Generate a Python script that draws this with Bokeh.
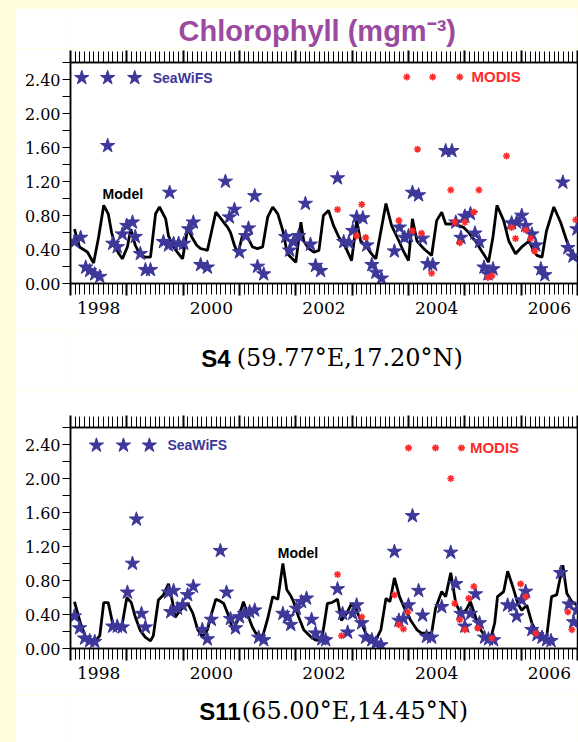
from bokeh.plotting import figure
from bokeh.models import (FixedTicker, LinearAxis, Label, Range1d, Spacer,
                          CustomJSTickFormatter, PrintfTickFormatter)
from bokeh.layouts import column, row
from bokeh.embed import file_html
from bokeh.resources import INLINE

# ---------------- axes / ticks ----------------
year_ticks = list(range(1998, 2008))
month_ticks = [1998 + k / 12 for k in range(109)]
year_label_ticks = [1998.5, 2000.5, 2002.5, 2004.5, 2006.5]
y_major = [0.0, 0.4, 0.8, 1.2, 1.6, 2.0, 2.4]
y_minor = [0.2, 0.6, 1.0, 1.4, 1.8, 2.2, 2.6]

# ---------------- S4 (59.77E, 17.20N) ----------------
s4_model_t = [1998.07, 1998.16, 1998.23, 1998.30, 1998.36, 1998.41, 1998.50, 1998.59, 1998.67, 1998.73,
              1998.80, 1998.85, 1998.92, 1999.01, 1999.07, 1999.15, 1999.24, 1999.33, 1999.42, 1999.51,
              1999.58, 1999.69, 1999.74, 1999.81, 1999.86, 1999.94, 1999.99, 2000.08, 2000.15, 2000.24,
              2000.31, 2000.38, 2000.43, 2000.50, 2000.58, 2000.65, 2000.72, 2000.79, 2000.84, 2000.91,
              2000.97, 2001.06, 2001.14, 2001.23, 2001.32, 2001.41, 2001.50, 2001.59, 2001.68, 2001.77,
              2001.85, 2002.00, 2002.09, 2002.14, 2002.23, 2002.32, 2002.41, 2002.49, 2002.58, 2002.67,
              2002.76, 2002.88, 2002.99, 2003.08, 2003.15, 2003.26, 2003.33, 2003.42, 2003.60, 2003.70,
              2003.83, 2003.91, 2004.00, 2004.07, 2004.15, 2004.27, 2004.34, 2004.41, 2004.50, 2004.59,
              2004.66, 2004.77, 2004.89, 2004.98, 2005.07, 2005.12, 2005.19, 2005.28, 2005.37, 2005.42,
              2005.50, 2005.57, 2005.69, 2005.78, 2005.90, 2006.01, 2006.14, 2006.21, 2006.28, 2006.37,
              2006.45, 2006.58, 2006.70, 2006.81, 2006.90, 2006.99]
s4_model_v = [0.64, 0.43, 0.40, 0.37, 0.30, 0.24, 0.55, 0.92, 0.82, 0.60,
              0.43, 0.36, 0.29, 0.43, 0.64, 0.45, 0.33, 0.31, 0.31, 0.82,
              0.90, 0.76, 0.56, 0.45, 0.40, 0.33, 0.29, 0.65, 0.55, 0.45,
              0.41, 0.40, 0.39, 0.60, 0.84, 0.78, 0.72, 0.66, 0.60, 0.45,
              0.35, 0.58, 0.55, 0.43, 0.41, 0.43, 0.78, 0.90, 0.82, 0.62,
              0.35, 0.25, 0.72, 0.50, 0.41, 0.37, 0.39, 0.80, 0.86, 0.68,
              0.55, 0.43, 0.27, 0.74, 0.50, 0.43, 0.36, 0.29, 0.94, 0.68,
              0.50, 0.38, 0.27, 0.76, 0.50, 0.41, 0.37, 0.33, 0.74, 0.84,
              0.70, 0.70, 0.68, 0.66, 0.60, 0.55, 0.50, 0.40, 0.31, 0.25,
              0.55, 0.92, 0.74, 0.50, 0.35, 0.43, 0.50, 0.40, 0.33, 0.31,
              0.62, 0.90, 0.72, 0.50, 0.35, 0.31]
s4_seawifs_t = [1998.07, 1998.18, 1998.27, 1998.34, 1998.43, 1998.52, 1998.66, 1998.75, 1998.83, 1998.92,
                1999.00, 1999.10, 1999.15, 1999.24, 1999.33, 1999.42, 1999.65, 1999.74, 1999.76, 1999.83,
                1999.92, 2000.01, 2000.10, 2000.18, 2000.31, 2000.43, 2000.75, 2000.82, 2000.91, 2001.00,
                2001.11, 2001.16, 2001.27, 2001.32, 2001.43, 2001.82, 2001.89, 2001.96, 2002.05, 2002.17,
                2002.26, 2002.35, 2002.44, 2002.74, 2002.85, 2002.94, 2003.01, 2003.08, 2003.19, 2003.26,
                2003.35, 2003.42, 2003.52, 2003.75, 2003.84, 2003.93, 2004.00, 2004.07, 2004.18, 2004.25,
                2004.34, 2004.43, 2004.66, 2004.77, 2004.84, 2004.93, 2005.00, 2005.10, 2005.18, 2005.26,
                2005.34, 2005.41, 2005.50, 2005.83, 2005.92, 2006.01, 2006.08, 2006.19, 2006.26, 2006.35,
                2006.42, 2006.74, 2006.83, 2006.92, 2006.99]
s4_seawifs_v = [0.49, 0.54, 0.19, 0.15, 0.11, 0.08, 1.62, 0.47, 0.43, 0.58,
                0.68, 0.72, 0.55, 0.35, 0.16, 0.16, 0.49, 0.45, 1.07, 0.47,
                0.47, 0.47, 0.64, 0.72, 0.22, 0.19, 1.20, 0.78, 0.87, 0.37,
                0.56, 0.65, 1.03, 0.20, 0.11, 0.55, 0.39, 0.49, 0.56, 0.94,
                0.46, 0.21, 0.15, 1.24, 0.49, 0.48, 0.62, 0.78, 0.77, 0.45,
                0.22, 0.13, 0.06, 0.38, 0.66, 0.54, 0.56, 1.07, 1.04, 0.53,
                0.23, 0.22, 1.56, 1.56, 0.72, 0.54, 0.79, 0.82, 0.59, 0.49,
                0.19, 0.11, 0.17, 0.71, 0.72, 0.80, 0.68, 0.58, 0.45, 0.17,
                0.10, 1.19, 0.42, 0.32, 0.64]
s4_modis_t = [2002.74, 2003.08, 2003.17, 2003.24, 2003.83, 2004.07, 2004.16, 2004.23, 2004.41, 2004.75,
              2004.82, 2004.91, 2005.00, 2005.16, 2005.25, 2005.41, 2005.48, 2005.74, 2005.83, 2005.90,
              2006.08, 2006.17, 2006.24, 2006.97]
s4_modis_v = [0.87, 0.56, 0.93, 0.54, 0.74, 0.62, 1.58, 0.59, 0.12, 1.10,
              0.72, 0.48, 0.72, 0.84, 1.10, 0.07, 0.09, 1.50, 0.66, 0.53,
              0.63, 0.53, 0.38, 0.75]

# ---------------- S11 (65.00E, 14.45N) ----------------
s11_model_t = [1998.07, 1998.18, 1998.27, 1998.36, 1998.44, 1998.52, 1998.59, 1998.67, 1998.75, 1998.83,
               1998.92, 1999.00, 1999.08, 1999.15, 1999.24, 1999.33, 1999.42, 1999.47, 1999.56, 1999.65,
               1999.74, 1999.81, 1999.86, 1999.95, 2000.08, 2000.17, 2000.26, 2000.34, 2000.43, 2000.50,
               2000.58, 2000.65, 2000.72, 2000.81, 2000.88, 2000.97, 2001.07, 2001.16, 2001.23, 2001.29,
               2001.41, 2001.50, 2001.59, 2001.68, 2001.77, 2001.84, 2001.91, 2001.96, 2002.05, 2002.14,
               2002.26, 2002.35, 2002.46, 2002.56, 2002.64, 2002.74, 2002.81, 2002.90, 2002.99, 2003.08,
               2003.15, 2003.24, 2003.33, 2003.42, 2003.51, 2003.60, 2003.67, 2003.75, 2003.84, 2003.93,
               2004.04, 2004.15, 2004.23, 2004.32, 2004.41, 2004.48, 2004.59, 2004.66, 2004.75, 2004.84,
               2004.93, 2005.02, 2005.10, 2005.19, 2005.28, 2005.37, 2005.46, 2005.53, 2005.58, 2005.69,
               2005.76, 2005.85, 2005.94, 2006.01, 2006.10, 2006.19, 2006.28, 2006.37, 2006.45, 2006.54,
               2006.63, 2006.74, 2006.81, 2006.90, 2006.99]
s11_model_v = [0.55, 0.29, 0.13, 0.07, 0.09, 0.15, 0.54, 0.54, 0.29, 0.23,
               0.29, 0.60, 0.54, 0.37, 0.21, 0.13, 0.09, 0.15, 0.57, 0.63,
               0.76, 0.55, 0.37, 0.45, 0.53, 0.42, 0.22, 0.14, 0.22, 0.40,
               0.58, 0.56, 0.53, 0.38, 0.22, 0.33, 0.55, 0.37, 0.25, 0.18,
               0.14, 0.35, 0.61, 0.58, 1.00, 0.69, 0.62, 0.55, 0.37, 0.22,
               0.14, 0.10, 0.10, 0.53, 0.54, 0.58, 0.33, 0.41, 0.53, 0.45,
               0.33, 0.18, 0.12, 0.10, 0.22, 0.59, 0.55, 0.83, 0.61, 0.47,
               0.33, 0.22, 0.18, 0.18, 0.18, 0.47, 0.67, 0.61, 0.89, 0.53,
               0.41, 0.45, 0.55, 0.37, 0.22, 0.14, 0.12, 0.30, 0.61, 0.67,
               0.91, 0.73, 0.53, 0.45, 0.51, 0.30, 0.18, 0.12, 0.12, 0.61,
               0.63, 0.98, 0.65, 0.55, 0.51]
s11_seawifs_t = [1998.07, 1998.16, 1998.25, 1998.34, 1998.43, 1998.75, 1998.83, 1998.92, 1999.01, 1999.10,
                 1999.17, 1999.26, 1999.33, 1999.74, 1999.78, 1999.83, 1999.90, 1999.99, 2000.08, 2000.18,
                 2000.34, 2000.43, 2000.50, 2000.66, 2000.77, 2000.84, 2000.93, 2001.00, 2001.09, 2001.18,
                 2001.27, 2001.34, 2001.43, 2001.77, 2001.85, 2001.91, 2002.01, 2002.10, 2002.19, 2002.28,
                 2002.35, 2002.46, 2002.53, 2002.74, 2002.83, 2002.92, 2003.01, 2003.08, 2003.17, 2003.24,
                 2003.35, 2003.42, 2003.51, 2003.75, 2003.83, 2003.91, 2004.00, 2004.07, 2004.18, 2004.25,
                 2004.32, 2004.41, 2004.59, 2004.75, 2004.84, 2004.93, 2005.00, 2005.10, 2005.19, 2005.26,
                 2005.35, 2005.42, 2005.51, 2005.76, 2005.85, 2005.92, 2006.01, 2006.08, 2006.19, 2006.28,
                 2006.37, 2006.45, 2006.53, 2006.70, 2006.85, 2006.93, 2006.99]
s11_seawifs_v = [0.38, 0.24, 0.12, 0.09, 0.08, 0.26, 0.26, 0.25, 0.66, 1.00,
                 1.52, 0.41, 0.25, 0.66, 0.43, 0.68, 0.47, 0.51, 0.63, 0.73,
                 0.22, 0.11, 0.34, 1.15, 0.66, 0.35, 0.24, 0.37, 0.41, 0.43,
                 0.45, 0.13, 0.10, 0.41, 0.37, 0.28, 0.47, 0.55, 0.59, 0.34,
                 0.18, 0.11, 0.10, 0.70, 0.41, 0.19, 0.41, 0.51, 0.30, 0.13,
                 0.10, 0.06, 0.04, 1.14, 0.33, 0.35, 0.51, 1.56, 0.68, 0.39,
                 0.14, 0.13, 0.49, 1.13, 0.76, 0.41, 0.26, 0.41, 0.64, 0.30,
                 0.13, 0.11, 0.10, 0.51, 0.50, 0.38, 0.57, 0.67, 0.22, 0.16,
                 0.13, 0.10, 0.09, 0.89, 0.52, 0.31, 0.45]
s11_modis_t = [2002.74, 2002.81, 2003.17, 2003.75, 2003.83, 2003.91, 2003.99, 2004.75, 2004.82, 2004.91,
               2005.00, 2005.07, 2005.16, 2005.23, 2005.48, 2005.99, 2006.08, 2006.26, 2006.83, 2006.90]
s11_modis_v = [0.87, 0.15, 0.37, 0.63, 0.28, 0.23, 0.43, 2.00, 0.53, 0.34,
               0.22, 0.59, 0.73, 0.24, 0.12, 0.76, 0.61, 0.18, 0.43, 0.22]

# ---------------- in-plot legend positions (data units) ----------------
s4_leg_star_t = [1998.20, 1998.66, 1999.14]
s4_leg_star_v = 2.42
s4_leg_modis_t = [2003.97, 2004.43, 2004.91]
s4_leg_modis_v = 2.43
s11_leg_star_t = [1998.46, 1998.94, 1999.40]
s11_leg_star_v = 2.39
s11_leg_modis_t = [2004.00, 2004.48, 2004.94]
s11_leg_modis_v = 2.36

TITLE = "Chlorophyll (mgm⁻³)"
S4_NAME, S4_COORD = "S4", "(59.77°E,17.20°N)"
S11_NAME, S11_COORD = "S11", "(65.00°E,14.45°N)"

BLUE = "#3d3899"
RED = "#ff2b2b"
PURPLE = "#9b4a9f"
SANS = "Liberation Sans"
SERIF = "DejaVu Serif"
YELLOW = "#fffcdc"
W = 563


def hide_labels(axis):
    axis.major_label_text_color = None
    axis.major_label_text_font_size = "1px"
    axis.major_label_standoff = 0


def make_panel(height, top, bottom, model_t, model_v, sw_t, sw_v, mo_t, mo_v,
               leg_star_t, leg_star_v, leg_sw_text_t, leg_mo_t, leg_mo_v, leg_mo_text_t,
               model_lab_t, model_lab_v):
    p = figure(width=W, height=height, x_range=Range1d(1998, 2007), y_range=Range1d(0, 2.6),
               output_backend="svg", toolbar_location=None,
               min_border_left=55, min_border_right=1, min_border_top=top, min_border_bottom=bottom,
               background_fill_color="white", border_fill_color="white",
               outline_line_color="black", outline_line_width=1.5)
    p.xgrid.visible = False
    p.ygrid.visible = False

    # bottom axis: year/month tick marks only
    ax = p.xaxis[0]
    ax.ticker = FixedTicker(ticks=year_ticks, minor_ticks=month_ticks)
    hide_labels(ax)
    ax.major_tick_in = 0
    ax.major_tick_out = 12
    ax.minor_tick_in = 0
    ax.minor_tick_out = 11
    ax.major_tick_line_width = 2
    ax.minor_tick_line_width = 1
    ax.axis_line_width = 1.5

    # year labels centred in the year
    bx = LinearAxis(ticker=FixedTicker(ticks=year_label_ticks, minor_ticks=[]),
                    formatter=CustomJSTickFormatter(code="return Math.floor(tick).toString();"),
                    major_tick_in=0, major_tick_out=0, minor_tick_in=0, minor_tick_out=0,
                    axis_line_color=None, major_label_standoff=6,
                    major_label_text_font=SERIF, major_label_text_font_size="17px",
                    major_label_text_color="black")
    p.add_layout(bx, "below")

    # top tick marks
    tx = LinearAxis(ticker=FixedTicker(ticks=year_ticks, minor_ticks=month_ticks),
                    major_tick_in=0, major_tick_out=12, minor_tick_in=0, minor_tick_out=11,
                    major_tick_line_width=2, minor_tick_line_width=1, axis_line_width=1.5)
    hide_labels(tx)
    p.add_layout(tx, "above")

    ay = p.yaxis[0]
    ay.ticker = FixedTicker(ticks=y_major, minor_ticks=y_minor)
    ay.formatter = PrintfTickFormatter(format="%.2f")
    ay.major_tick_in = 0
    ay.major_tick_out = 8
    ay.minor_tick_in = 0
    ay.minor_tick_out = 8
    ay.major_label_standoff = 2
    ay.major_label_text_font = SERIF
    ay.major_label_text_font_size = "16px"
    ay.major_label_text_color = "black"
    ay.axis_line_width = 1.5

    # data
    p.line(model_t, model_v, line_color="black", line_width=2.8)
    p.scatter(sw_t, sw_v, marker="star", size=15, fill_color=BLUE, line_color=BLUE)
    p.scatter(mo_t, mo_v, marker="asterisk", size=7, line_color=RED, line_width=1.6)

    # in-plot legend
    p.scatter(leg_star_t, [leg_star_v] * len(leg_star_t), marker="star", size=15,
              fill_color=BLUE, line_color=BLUE)
    p.scatter(leg_mo_t, [leg_mo_v] * len(leg_mo_t), marker="asterisk", size=7,
              line_color=RED, line_width=1.6)
    p.add_layout(Label(x=leg_sw_text_t, y=leg_star_v, text="SeaWiFS", text_font=SANS,
                       text_font_style="bold", text_font_size="14px", text_color=BLUE,
                       text_baseline="middle", text_align="left"))
    p.add_layout(Label(x=leg_mo_text_t, y=leg_mo_v, text="MODIS", text_font=SANS,
                       text_font_style="bold", text_font_size="15px", text_color=RED,
                       text_baseline="middle", text_align="left"))
    p.add_layout(Label(x=model_lab_t, y=model_lab_v, text="Model", text_font=SANS,
                       text_font_style="bold", text_font_size="14px", text_color="black",
                       text_baseline="middle", text_align="left"))
    return p


def text_strip(height):
    f = figure(width=W, height=height, x_range=Range1d(1998, 2007), y_range=Range1d(0, 1),
               output_backend="svg", toolbar_location=None,
               min_border_left=55, min_border_right=1, min_border_top=0, min_border_bottom=0,
               x_axis_location=None, y_axis_location=None,
               background_fill_color="white", border_fill_color="white", outline_line_color=None)
    f.xgrid.visible = False
    f.ygrid.visible = False
    return f


def caption(height, name, coord, x_name_end, x_coord_start, y_base):
    f = text_strip(height)
    f.add_layout(Label(x=x_name_end, y=y_base, text=name, text_font=SANS, text_font_style="bold",
                       text_font_size="24px", text_color="black",
                       text_baseline="alphabetic", text_align="right"))
    f.add_layout(Label(x=x_coord_start, y=y_base, text=coord, text_font=SERIF,
                       text_font_size="24px", text_color="black",
                       text_baseline="alphabetic", text_align="left"))
    return f


header = text_strip(40)
header.add_layout(Label(x=2002.38, y=0.43, text=TITLE, text_font=SANS, text_font_style="bold",
                        text_font_size="29px", text_color=PURPLE,
                        text_baseline="alphabetic", text_align="center"))

p1 = make_panel(282, 14, 47, s4_model_t, s4_model_v, s4_seawifs_t, s4_seawifs_v,
                s4_modis_t, s4_modis_v,
                s4_leg_star_t, s4_leg_star_v, 1999.46, s4_leg_modis_t, s4_leg_modis_v, 2005.12,
                1998.57, 1.05)
cap1 = caption(60, S4_NAME, S4_COORD, 2000.84, 2000.95, 0.535)

p2 = make_panel(305, 37, 47, s11_model_t, s11_model_v, s11_seawifs_t, s11_seawifs_v,
                s11_modis_t, s11_modis_v,
                s11_leg_star_t, s11_leg_star_v, 1999.72, s11_leg_modis_t, s11_leg_modis_v, 2005.09,
                2001.68, 1.12)
cap2 = caption(47, S11_NAME, S11_COORD, 2001.02, 2001.04, 0.66)

layout = column(Spacer(width=578, height=8),
                row(Spacer(width=15, height=734), column(header, p1, cap1, p2, cap2)))

html = file_html(layout, INLINE)
html = html.replace("</head>", "<style>body{background-color:%s;}</style></head>" % YELLOW, 1)
open("out.html", "w").write(html)
